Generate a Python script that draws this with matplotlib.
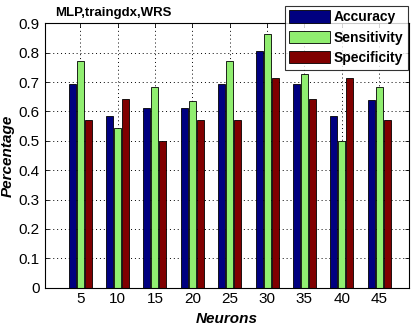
import numpy as np
import matplotlib
matplotlib.use("Agg")
from matplotlib import pyplot as plt

neurons = [5, 10, 15, 20, 25, 30, 35, 40, 45]
accuracy = [0.694, 0.583, 0.611, 0.611, 0.694, 0.806, 0.694, 0.583, 0.639]
sensitivity = [0.773, 0.545, 0.682, 0.636, 0.773, 0.864, 0.727, 0.500, 0.682]
specificity = [0.571, 0.643, 0.500, 0.571, 0.571, 0.714, 0.643, 0.714, 0.571]
series_names = ['Accuracy', 'Sensitivity', 'Specificity']
colors = ['#000080', '#90ee70', '#800000']

plt.rcParams['font.family'] = ['Liberation Sans', 'DejaVu Sans']

fig = plt.figure(figsize=(4.14, 3.26), dpi=100)
ax = fig.add_axes([0.108, 0.118, 0.88, 0.81])

x = np.array(neurons, dtype=float)
off = 1.07
w = 0.93
for i, (vals, c, name) in enumerate(zip([accuracy, sensitivity, specificity], colors, series_names)):
    ax.bar(x + (i - 1) * off, vals, width=w, color=c, edgecolor='black',
           linewidth=0.6, label=name, zorder=2)

ax.set_xlim(0.25, 49)
ax.set_ylim(0, 0.9)
ax.set_xticks(neurons)
ax.set_yticks(np.arange(0, 0.91, 0.1))
ax.set_yticklabels(['0'] + ['%.1f' % v for v in np.arange(0.1, 0.91, 0.1)])
ax.grid(True, color='black', linestyle=(0, (1, 3)), linewidth=0.7, zorder=0)
ax.set_axisbelow(True)
ax.tick_params(direction='in', length=3, labelsize=11, width=0.6, top=True, right=True)
for s in ax.spines.values():
    s.set_linewidth(0.8)

ax.set_xlabel('Neurons', fontsize=11, fontweight='bold', style='italic', labelpad=4)
ax.set_ylabel('Percentage', fontsize=11, fontweight='bold', style='italic', labelpad=3)
fig.text(0.133, 0.942, 'MLP,traingdx,WRS', fontsize=9.5, fontweight='bold', ha='left', va='bottom')

leg = ax.legend(loc='upper right', bbox_to_anchor=(0.998, 1.068),
                prop={'weight': 'bold', 'size': 10}, frameon=True, fancybox=False,
                edgecolor='black', handlelength=2.9, handleheight=1.0,
                handletextpad=0.3, borderpad=0.35, labelspacing=0.45, borderaxespad=0.0)
leg.get_frame().set_linewidth(0.8)
leg.set_zorder(5)

fig.savefig('out.png', dpi=100)
